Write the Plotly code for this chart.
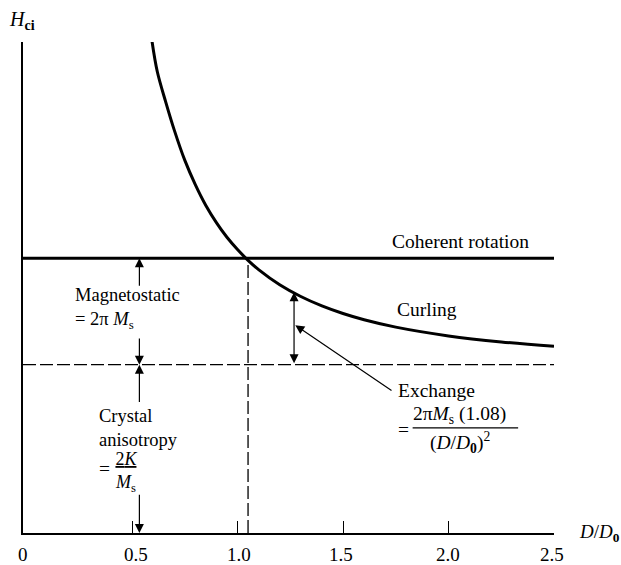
import plotly.graph_objects as go

# ---- data ----
curl_x = [0.595, 0.62, 0.66, 0.70, 0.75, 0.80, 0.85, 0.90, 0.95, 1.00, 1.05, 1.10,
          1.20, 1.30, 1.40, 1.50, 1.60, 1.75, 2.00, 2.25, 2.50]
curl_y = [2.92, 2.74, 2.56, 2.395, 2.215, 2.07, 1.946, 1.844, 1.757, 1.684, 1.62, 1.565,
          1.475, 1.405, 1.349, 1.304, 1.267, 1.223, 1.171, 1.135, 1.109]
coherent_x = [-0.0166, 2.5]
coherent_y = [1.633, 1.633]
aniso_x = [-0.0166, 2.5]
aniso_y = [1.0, 1.0]
cross_x = [1.05, 1.05]
cross_y = [0.0, 1.633]
tick_vals = [0.5, 1.0, 1.5, 2.0, 2.5]
label_vals = [0.0, 0.5, 1.0, 1.5, 2.0, 2.5]
label_text = ["0", "0.5", "1.0", "1.5", "2.0", "2.5"]
label_shift = [-4, 4, 1, -2, -1, -2]

FONT = "Liberation Serif"
BLACK = "black"
TS = 19.5

fig = go.Figure()
fig.add_trace(go.Scatter(x=curl_x, y=curl_y, mode="lines", line=dict(color=BLACK, width=3, shape="spline"),
                         hoverinfo="skip"))
fig.add_trace(go.Scatter(x=coherent_x, y=coherent_y, mode="lines", line=dict(color=BLACK, width=3),
                         hoverinfo="skip"))
fig.add_trace(go.Scatter(x=aniso_x, y=aniso_y, mode="lines",
                         line=dict(color=BLACK, width=1.3, dash="13px,4px"), hoverinfo="skip"))
fig.add_trace(go.Scatter(x=cross_x, y=cross_y, mode="lines",
                         line=dict(color=BLACK, width=1.3, dash="13px,4px"), hoverinfo="skip"))

ann = []


def arrow(x0, y0, x1, y1, both=False):
    # head at (x1, y1), tail at (x0, y0)
    ann.append(dict(x=x1, y=y1, ax=x0, ay=y0, xref="x", yref="y", axref="x", ayref="y",
                    text="", showarrow=True, arrowhead=2, arrowsize=1.5, arrowwidth=1.2,
                    arrowcolor=BLACK, standoff=0, startstandoff=0,
                    arrowside="end+start" if both else "end", startarrowhead=2, startarrowsize=1.5))


def txt(x, y, s, anchor="left", size=TS, ref="data", align="left"):
    r = ("x", "y") if ref == "data" else ("paper", "paper")
    ann.append(dict(x=x, y=y, xref=r[0], yref=r[1], text=s, showarrow=False, xanchor=anchor,
                    yanchor="middle", align=align, font=dict(family=FONT, size=size, color=BLACK)))


# magnetostatic arrows
arrow(0.535, 1.46, 0.535, 1.633)
arrow(0.535, 1.164, 0.535, 1.0)
# crystal anisotropy arrows
arrow(0.535, 0.77, 0.535, 1.0)
arrow(0.535, 0.236, 0.535, 0.0)
# exchange double arrow
arrow(1.268, 1.0, 1.268, 1.43, both=True)
# pointer
arrow(1.737, 0.84, 1.274, 1.234)

txt(1.725, 1.734, "Coherent rotation")
txt(1.745, 1.329, "Curling")
txt(0.222, 1.335, "Magnetostatic<br>= 2π <i>M</i><sub>s</sub>", size=18.5)
txt(0.333, 0.626, "Crystal<br>anisotropy", size=18.5)
txt(0.333, 0.385, "=")
txt(0.47, 0.36, "<u>2<i>K</i></u><br><i>M</i><sub>s</sub>", anchor="center", size=18, align="center")
txt(1.752, 0.847, "Exchange")
txt(1.75, 0.615, "=")
txt(2.054, 0.70, "2π<i>M</i><sub>s</sub> (1.08)", anchor="center")
txt(2.054, 0.535, "(<i>D</i>/<i>D</i><sub><b>0</b></sub>)<sup>2</sup>", anchor="center")
txt(-0.002, 1.0448, "<i>H</i><sub><b>ci</b></sub>", anchor="center", size=20, ref="paper")
txt(1.0425, 0.0, "<i>D</i>/<i>D</i><sub><b>0</b></sub>", anchor="left", size=19, ref="paper")

for v, t, s in zip(label_vals, label_text, label_shift):
    ann.append(dict(x=v, y=0, xref="x", yref="y", text=t, showarrow=False, xanchor="center",
                    yanchor="middle", yshift=-21, xshift=s, font=dict(family=FONT, size=19, color=BLACK)))

fig.update_layout(
    width=621, height=565,
    margin=dict(l=23, r=67, t=42, b=32, pad=0),
    paper_bgcolor="white", plot_bgcolor="white",
    showlegend=False,
    annotations=ann,
    shapes=[dict(type="line", xref="x", yref="y", x0=1.83, x1=2.33, y0=0.625, y1=0.625,
                 line=dict(color=BLACK, width=1.2))],
    xaxis=dict(range=[-0.0166, 2.5], showgrid=False, zeroline=False, showline=True, linecolor=BLACK,
               linewidth=2, tickvals=tick_vals, ticks="inside", ticklen=12, tickwidth=1.2,
               tickcolor=BLACK, showticklabels=False, fixedrange=True),
    yaxis=dict(range=[0, 2.917], showgrid=False, zeroline=False, showline=True, linecolor=BLACK,
               linewidth=1.8, ticks="", showticklabels=False, fixedrange=True),
)

fig.write_html("out.html", config={"displayModeBar": False},
               post_script="document.body.style.margin='0';document.body.style.overflow='hidden';")
